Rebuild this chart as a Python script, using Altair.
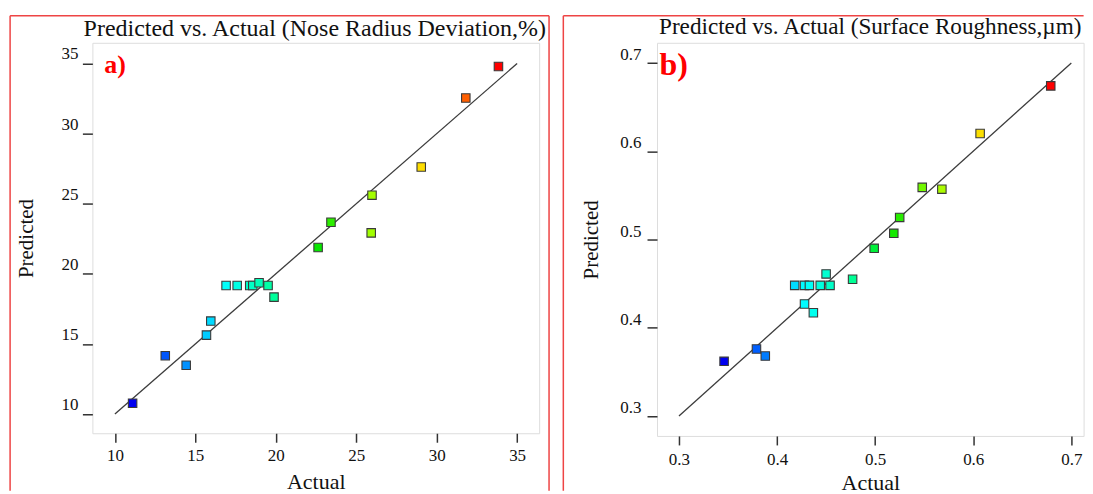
import altair as alt
import pandas as pd

# ---- Panel a) Nose Radius Deviation, % ----
a_actual = [11.10, 13.13, 14.43, 15.69, 15.96, 16.91, 17.60, 18.38, 18.57, 18.96,
            19.52, 19.89, 22.63, 23.43, 25.98, 25.93, 29.04, 31.81, 33.84]
a_pred = [10.77, 14.16, 13.48, 15.63, 16.63, 19.17, 19.17, 19.17, 19.17, 19.36,
          19.17, 18.34, 21.88, 23.68, 25.61, 22.92, 27.62, 32.54, 34.79]
a_ticks = [10, 15, 20, 25, 30, 35]
a_line = [10, 35]
a_title = "Predicted vs. Actual (Nose Radius Deviation,%)"

# ---- Panel b) Surface Roughness, um ----
b_actual = [0.346, 0.379, 0.388, 0.428, 0.437, 0.418, 0.428, 0.433, 0.444, 0.454,
            0.450, 0.477, 0.499, 0.519, 0.525, 0.548, 0.568, 0.607, 0.679]
b_pred = [0.362, 0.376, 0.368, 0.427, 0.417, 0.448, 0.448, 0.448, 0.448, 0.448,
          0.461, 0.455, 0.490, 0.507, 0.525, 0.559, 0.557, 0.620, 0.674]
b_ticks = [0.3, 0.4, 0.5, 0.6, 0.7]
b_line = [0.3, 0.7]
b_title = "Predicted vs. Actual (Surface Roughness,\u00b5m)"

# rainbow colour ramp (normalised response value)
ramp_stops = [0, 0.1, 0.25, 0.4, 0.5, 0.65, 0.79, 0.91, 1]
ramp_colors = ["#0000f0", "#0060ff", "#00ffff", "#00ff90", "#00e600",
               "#a0ff00", "#ffdd00", "#ff6000", "#ff0000"]

FONT = "Liberation Serif"
RED = "#ee4444"


def panel(actual, pred, ticks, line_vals, fmt, xdom, ydom, W, H, title, title_x, title_y,
          title_size, tag, tag_x, tag_y, tag_size, frame, ylab_pad, ylab_off, xlab_pad,
          ytitle_x, xtitle_y):
    df = pd.DataFrame({"Actual": actual, "Predicted": pred})
    mn, mx = min(actual), max(actual)
    xs = alt.Scale(domain=xdom, nice=False, zero=False)
    ys = alt.Scale(domain=ydom, nice=False, zero=False)
    xaxis = alt.Axis(values=ticks, format=fmt, grid=False, domain=False, tickSize=9,
                     tickWidth=1.5, tickColor="#333", labelFont=FONT, labelFontSize=17,
                     labelColor="#111", labelBaseline="alphabetic", labelPadding=xlab_pad,
                     labelFlush=False, labelOverlap=False, labelBound=False,
                     titleFont=FONT, titleFontSize=22, titleFontWeight="normal",
                     titleColor="#111", titleBaseline="alphabetic", titleX=W / 2,
                     titleY=xtitle_y, titleAlign="center")
    yaxis = alt.Axis(values=ticks, format=fmt, grid=False, domain=False, tickSize=10,
                     tickWidth=1.5, tickColor="#333", labelFont=FONT, labelFontSize=17,
                     labelColor="#111", labelBaseline="alphabetic", labelPadding=ylab_pad,
                     labelOffset=ylab_off, labelFlush=False, labelOverlap=False,
                     labelBound=False, titleFont=FONT, titleFontSize=21,
                     titleFontWeight="normal", titleColor="#111", titleAngle=270,
                     titleBaseline="alphabetic", titleAlign="center", titleX=ytitle_x,
                     titleY=H / 2)
    pts = alt.Chart(df).transform_calculate(
        frac=f"(datum.Actual - {mn}) / {mx - mn}"
    ).mark_square(size=72, opacity=1, filled=True, stroke="#3a3a3a", strokeWidth=1.1).encode(
        x=alt.X("Actual:Q", scale=xs, axis=xaxis, title="Actual"),
        y=alt.Y("Predicted:Q", scale=ys, axis=yaxis, title="Predicted"),
        color=alt.Color("frac:Q", scale=alt.Scale(domain=ramp_stops, range=ramp_colors,
                                                  interpolate="rgb"), legend=None),
    )
    line = alt.Chart(pd.DataFrame({"Actual": line_vals, "Predicted": line_vals})).mark_line(
        color="#3c3c3c", strokeWidth=1.3
    ).encode(x="Actual:Q", y="Predicted:Q")

    one = pd.DataFrame({"t": [title], "g": [tag]})
    ttl = alt.Chart(one).mark_text(font=FONT, fontSize=title_size, color="#111",
                                   align="center", baseline="alphabetic").encode(
        text="t:N", x=alt.value(title_x), y=alt.value(title_y))
    lab = alt.Chart(one).mark_text(font=FONT, fontSize=tag_size, fontWeight="bold",
                                   color="#ff0000", align="left",
                                   baseline="alphabetic").encode(
        text="g:N", x=alt.value(tag_x), y=alt.value(tag_y))

    layers = [line, pts, ttl, lab]
    for (x1, y1, x2, y2) in frame:
        enc = dict(x=alt.value(x1), y=alt.value(y1))
        if x2 is not None:
            enc["x2"] = alt.value(x2)
        if y2 is not None:
            enc["y2"] = alt.value(y2)
        layers.append(alt.Chart(one).mark_rule(color=RED, strokeWidth=1.5).encode(**enc))

    return alt.layer(*layers).properties(width=W, height=H)


WL, HL = 447.4, 391
WR, HR = 427.2, 393.7

left = panel(a_actual, a_pred, a_ticks, a_line, "d", [8.60, 36.37], [8.63, 36.48], WL, HL,
             a_title, WL / 2 - 1, -7, 24, "a)", 11.8, 30.7, 26,
             [(-82.4, -27, None, 448.7), (-82.4, -27, 457.3, None), (457.3, -27, None, 448.7)],
             4.4, -4.6, 18.7, -60, 55)
right = panel(b_actual, b_pred, b_ticks, b_line, ".1f", [0.2776, 0.7125], [0.2775, 0.7228],
              WR, HR, b_title, 213.5, -8.8, 23.2, "b)", 2.5, 32.7, 32,
              [(-93.8, -27, None, 448.7), (-93.8, -27, WR, None)],
              6, -3.3, 20, -59.2, 53.5)

chart = alt.hconcat(left, right, spacing=117.4, bounds="flush").properties(
    padding={"left": 0.5, "top": 5.5, "right": 0, "bottom": 0}
).configure_view(stroke="#333", strokeWidth=1.6).configure(background="white")

chart.save("out.html", embed_options={"renderer": "svg", "actions": False})
